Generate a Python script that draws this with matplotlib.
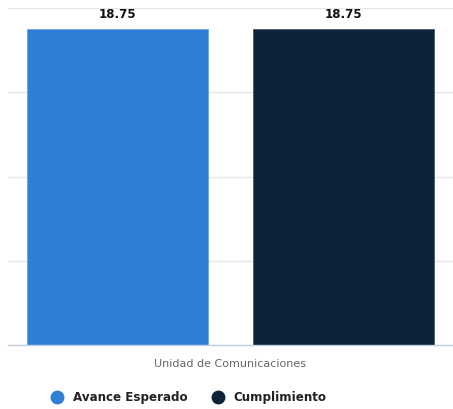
import matplotlib
matplotlib.use("Agg")
import matplotlib.pyplot as plt
from matplotlib.lines import Line2D

category = "Unidad de Comunicaciones"
series_names = ["Avance Esperado", "Cumplimiento"]
series_values = [18.75, 18.75]
colors = ["#2F7ED8", "#0D233A"]
yticks = [0, 5, 10, 15, 20]

W, H = 453, 409
fig = plt.figure(figsize=(W / 100, H / 100), dpi=100)
ax = fig.add_axes([8 / W, (H - 345) / H, (W - 8) / W, (345 - 8) / H])

positions = [-0.508, 0.508]
bars = ax.bar(positions, series_values, width=0.81, color=colors,
              edgecolor=["#6FA3E3", "#4A5A6A"], linewidth=0.6, zorder=3)
for p, v in zip(positions, series_values):
    ax.text(p, v + 0.85, f"{v:.2f}", ha="center", va="center",
            fontsize=8.6, fontweight="bold", color="#111111", zorder=4)

ax.set_xlim(-1, 1)
ax.set_ylim(0, 20)
ax.set_yticks(yticks)
ax.set_yticklabels([])
ax.tick_params(axis="both", length=0)
ax.set_xticks([0])
ax.set_xticklabels([category], fontsize=8, color="#666666")
ax.tick_params(axis="x", pad=10)
ax.grid(axis="y", color="#E6E6E6", linewidth=1, zorder=0)
for s in ["top", "right", "left"]:
    ax.spines[s].set_visible(False)
ax.spines["bottom"].set_color("#C0D0E0")
ax.spines["bottom"].set_linewidth(1)
ax.spines["bottom"].set_zorder(5)

handles = [Line2D([], [], marker="o", linestyle="", markersize=9,
                  markerfacecolor=c, markeredgecolor=c) for c in colors]
leg = fig.legend(handles, series_names, loc="center left", bbox_to_anchor=(0.105, 0.027),
                 ncol=2, frameon=False, handletextpad=0.5, columnspacing=1.75,
                 handlelength=1.6, borderpad=0, borderaxespad=0,
                 prop={"size": 8.6, "weight": "bold"})
for t in leg.get_texts():
    t.set_color("#222222")

fig.savefig("out.png", dpi=100)
